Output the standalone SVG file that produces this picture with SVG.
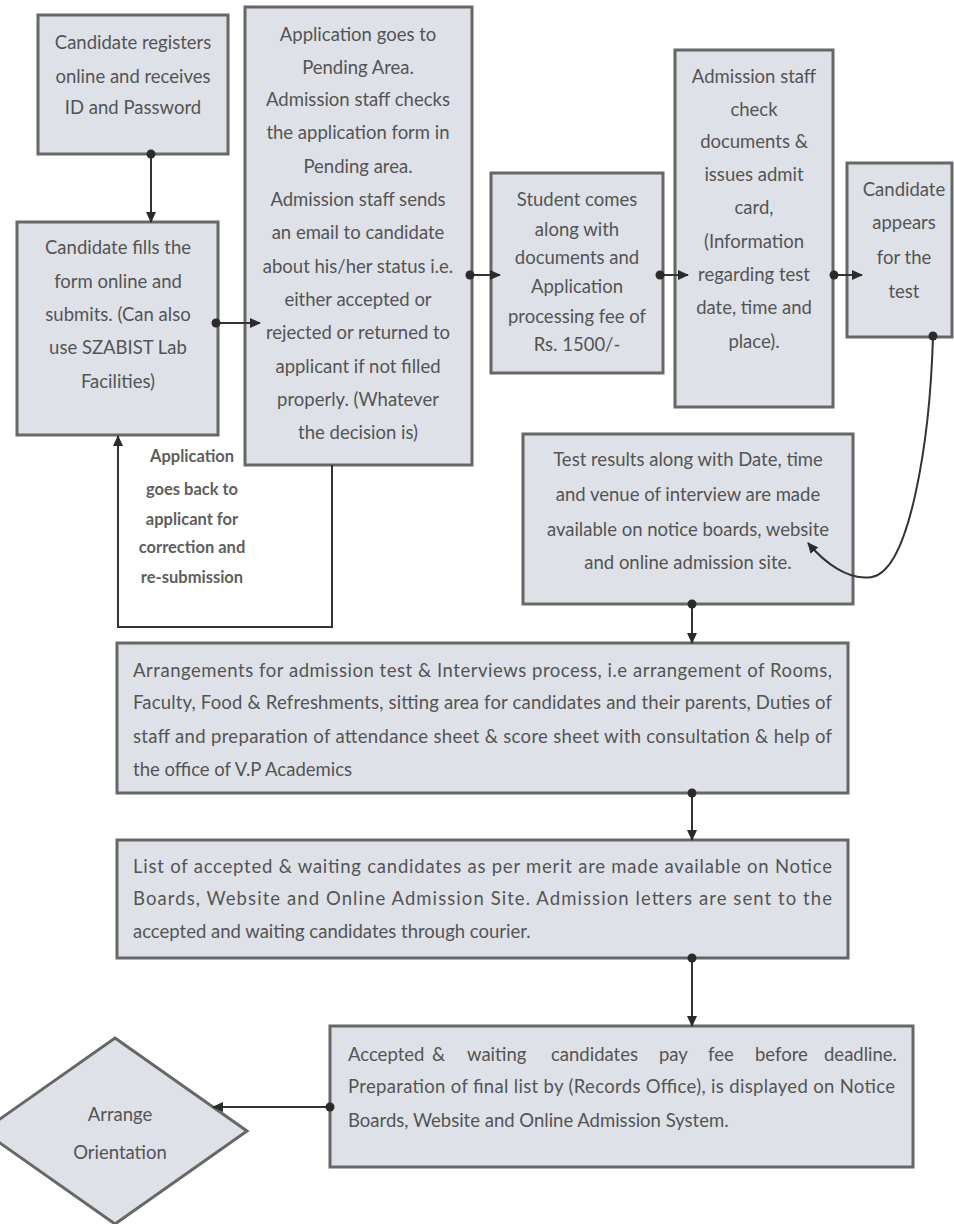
<svg xmlns="http://www.w3.org/2000/svg" width="954" height="1224" viewBox="0 0 954 1224">
<style>
.box{fill:#dee1e8;stroke:#676767;stroke-width:3}
.t{font-family:Lato,"Open Sans","Liberation Sans",sans-serif;font-size:18.5px;fill:#545454}
.c{text-anchor:middle}
.lbl{font-family:Lato,"Open Sans","Liberation Sans",sans-serif;font-size:16.5px;font-weight:bold;fill:#5e5e5e;text-anchor:middle}
.ln{fill:none;stroke:#333;stroke-width:2}
.dot{fill:#2b2b2b}
</style>
<defs>
<marker id="ah" markerUnits="userSpaceOnUse" markerWidth="11" markerHeight="10" refX="10" refY="5" orient="auto">
<path d="M0,0 L11,5 L0,10 z" fill="#2b2b2b"/>
</marker>
</defs>
<rect width="954" height="1224" fill="#fff"/>

<g id="n1">
<rect class="box" x="38" y="15" width="190" height="139"/>
<text class="t c" x="133" y="49">Candidate registers</text>
<text class="t c" x="133" y="83">online and receives</text>
<text class="t c" x="133" y="114">ID and Password</text>
</g>

<g id="n2">
<rect class="box" x="17" y="222" width="201" height="213"/>
<text class="t c" x="118" y="254">Candidate fills the</text>
<text class="t c" x="118" y="288">form online and</text>
<text class="t c" x="118" y="321">submits. (Can also</text>
<text class="t c" x="118" y="354">use SZABIST Lab</text>
<text class="t c" x="118" y="388">Facilities)</text>
</g>

<g id="n3">
<rect class="box" x="245" y="7" width="227" height="458"/>
<text class="t c" x="358" y="41">Application goes to</text>
<text class="t c" x="358" y="74">Pending Area.</text>
<text class="t c" x="358" y="106">Admission staff checks</text>
<text class="t c" x="358" y="139">the application form in</text>
<text class="t c" x="358" y="173">Pending area.</text>
<text class="t c" x="358" y="206">Admission staff sends</text>
<text class="t c" x="358" y="239">an email to candidate</text>
<text class="t c" x="358" y="273">about his/her status i.e.</text>
<text class="t c" x="358" y="306">either accepted or</text>
<text class="t c" x="358" y="339">rejected or returned to</text>
<text class="t c" x="358" y="373">applicant if not filled</text>
<text class="t c" x="358" y="406">properly. (Whatever</text>
<text class="t c" x="358" y="439">the decision is)</text>
</g>

<g id="n4">
<rect class="box" x="491" y="173" width="172" height="200"/>
<text class="t c" x="577" y="206">Student comes</text>
<text class="t c" x="577" y="236">along with</text>
<text class="t c" x="577" y="264">documents and</text>
<text class="t c" x="577" y="293">Application</text>
<text class="t c" x="577" y="323">processing fee of</text>
<text class="t c" x="577" y="351">Rs. 1500/-</text>
</g>

<g id="n5">
<rect class="box" x="675" y="50" width="158" height="357"/>
<text class="t c" x="754" y="83">Admission staff</text>
<text class="t c" x="754" y="116">check</text>
<text class="t c" x="754" y="148">documents &amp;</text>
<text class="t c" x="754" y="181">issues admit</text>
<text class="t c" x="754" y="214">card,</text>
<text class="t c" x="754" y="248">(Information</text>
<text class="t c" x="754" y="281">regarding test</text>
<text class="t c" x="754" y="314">date, time and</text>
<text class="t c" x="754" y="348">place).</text>
</g>

<g id="n6">
<rect class="box" x="847" y="163" width="105" height="174"/>
<text class="t c" x="904" y="196">Candidate</text>
<text class="t c" x="904" y="229">appears</text>
<text class="t c" x="904" y="264">for the</text>
<text class="t c" x="904" y="298">test</text>
</g>

<g id="n7">
<rect class="box" x="523" y="434" width="330" height="170"/>
<text class="t c" x="688" y="466">Test results along with Date, time</text>
<text class="t c" x="688" y="501">and venue of interview are made</text>
<text class="t c" x="688" y="536">available on notice boards, website</text>
<text class="t c" x="688" y="569">and online admission site.</text>
</g>

<g id="n8">
<rect class="box" x="117" y="643" width="731" height="150"/>
<text class="t" x="133" y="677" textLength="699" lengthAdjust="spacing">Arrangements for admission test &amp; Interviews process, i.e  arrangement of Rooms,</text>
<text class="t" x="133" y="709" textLength="699" lengthAdjust="spacing">Faculty, Food &amp; Refreshments, sitting area for candidates and their parents, Duties of</text>
<text class="t" x="133" y="743" textLength="699" lengthAdjust="spacing">staff and preparation of attendance sheet &amp; score sheet with consultation &amp; help of</text>
<text class="t" x="133" y="776">the office of V.P Academics</text>
</g>

<g id="n9">
<rect class="box" x="117" y="840" width="731" height="118"/>
<text class="t" x="133" y="873" textLength="699" lengthAdjust="spacing">List of accepted &amp; waiting candidates as per merit are made available on Notice</text>
<text class="t" x="133" y="905" textLength="699" lengthAdjust="spacing">Boards, Website and Online Admission Site. Admission letters are sent to the</text>
<text class="t" x="133" y="938">accepted and waiting candidates through courier.</text>
</g>

<g id="n10">
<rect class="box" x="330" y="1026" width="583" height="141"/>
<text class="t" y="1061"><tspan x="348">Accepted</tspan><tspan x="432">&amp;</tspan><tspan x="467">waiting</tspan><tspan x="551">candidates</tspan><tspan x="659">pay</tspan><tspan x="708">fee</tspan><tspan x="755">before</tspan><tspan x="824">deadline.</tspan></text>
<text class="t" x="348" y="1093" textLength="547" lengthAdjust="spacing">Preparation of final list by (Records Office), is displayed on Notice</text>
<text class="t" x="348" y="1127">Boards, Website and Online Admission System.</text>
</g>

<g id="n11">
<polygon class="box" points="115,1038 247,1131 115,1224 -17,1131"/>
<text class="t c" x="120" y="1121">Arrange</text>
<text class="t c" x="120" y="1159">Orientation</text>
</g>

<g id="connectors">
<line class="ln" x1="151" y1="154" x2="151" y2="222" marker-end="url(#ah)"/>
<circle class="dot" cx="151" cy="154" r="4.5"/>
<line class="ln" x1="216" y1="323" x2="260" y2="323" marker-end="url(#ah)"/>
<circle class="dot" cx="216" cy="323" r="4.5"/>
<line class="ln" x1="470" y1="275" x2="500" y2="275" marker-end="url(#ah)"/>
<circle class="dot" cx="470" cy="275" r="4.5"/>
<line class="ln" x1="660" y1="275" x2="688" y2="275" marker-end="url(#ah)"/>
<circle class="dot" cx="660" cy="275" r="4.5"/>
<line class="ln" x1="834" y1="275" x2="862" y2="275" marker-end="url(#ah)"/>
<circle class="dot" cx="834" cy="275" r="4.5"/>
<path class="ln" d="M933,336 C930,440 910,570 872,577 C848,581 824,562 808,543" marker-end="url(#ah)"/>
<circle class="dot" cx="933" cy="336" r="4.5"/>
<polyline class="ln" points="332,465 332,627 118,627 118,436" marker-end="url(#ah)"/>
<text class="lbl" x="192" y="462">Application</text>
<text class="lbl" x="192" y="495">goes back to</text>
<text class="lbl" x="192" y="525">applicant for</text>
<text class="lbl" x="192" y="553">correction and</text>
<text class="lbl" x="192" y="583">re-submission</text>
<line class="ln" x1="692" y1="604" x2="692" y2="643" marker-end="url(#ah)"/>
<circle class="dot" cx="692" cy="604" r="4.5"/>
<line class="ln" x1="692" y1="793" x2="692" y2="840" marker-end="url(#ah)"/>
<circle class="dot" cx="692" cy="793" r="4.5"/>
<line class="ln" x1="692" y1="958" x2="692" y2="1026" marker-end="url(#ah)"/>
<circle class="dot" cx="692" cy="958" r="4.5"/>
<line class="ln" x1="330" y1="1107" x2="213" y2="1107" marker-end="url(#ah)"/>
<circle class="dot" cx="330" cy="1107" r="4.5"/>
</g>
</svg>
